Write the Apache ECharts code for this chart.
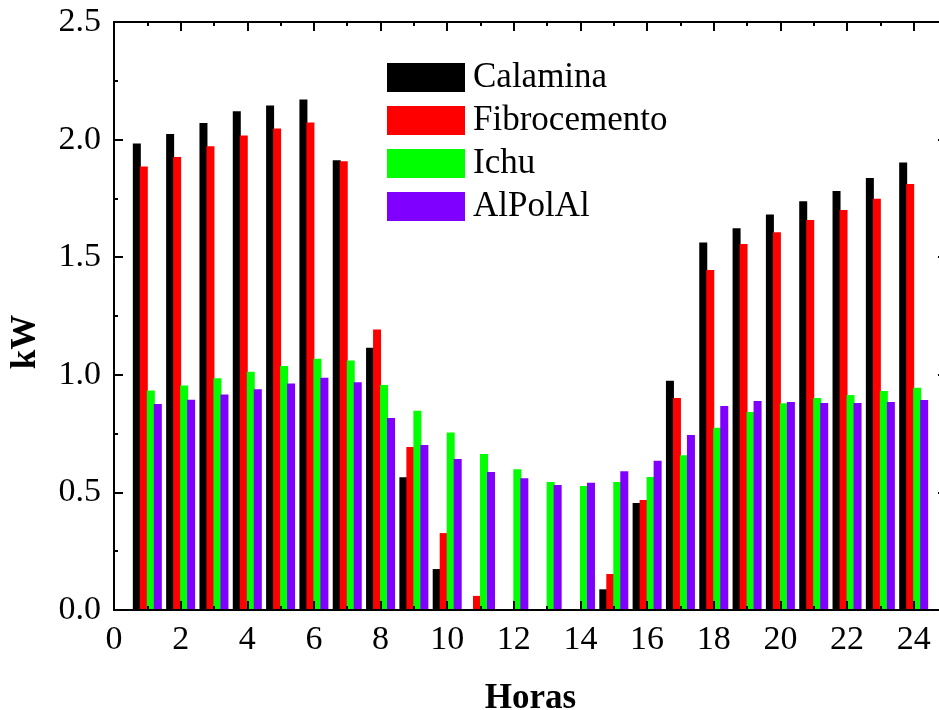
<!DOCTYPE html>
<html>
<head>
<meta charset="utf-8">
<script src="https://cdn.jsdelivr.net/npm/echarts@6/dist/echarts.min.js"></script>
<style>
  html, body { margin: 0; padding: 0; background: #fff; }
  #chart { width: 939px; height: 710px; }
</style>
</head>
<body>
<div id="chart"></div>
<script>
// Hourly power (kW) for four roofing materials
const hours = [1, 2, 3, 4, 5, 6, 7, 8, 9, 10, 11, 12, 13, 14, 15, 16, 17, 18, 19, 20, 21, 22, 23, 24];
const calamina     = [1.983, 2.024, 2.071, 2.121, 2.145, 2.171, 1.912, 1.115, 0.564, 0.174, 0, 0, 0, 0, 0.088, 0.455, 0.975, 1.563, 1.623, 1.682, 1.738, 1.781, 1.837, 1.903];
const fibrocemento = [1.886, 1.926, 1.972, 2.017, 2.047, 2.073, 1.908, 1.193, 0.693, 0.327, 0.060, 0, 0, 0, 0.153, 0.468, 0.901, 1.446, 1.556, 1.606, 1.658, 1.701, 1.749, 1.811];
const ichu         = [0.933, 0.954, 0.985, 1.013, 1.037, 1.068, 1.061, 0.957, 0.847, 0.755, 0.663, 0.598, 0.544, 0.527, 0.544, 0.565, 0.658, 0.775, 0.842, 0.879, 0.901, 0.914, 0.931, 0.945];
const alpolal      = [0.876, 0.894, 0.916, 0.939, 0.963, 0.987, 0.968, 0.816, 0.701, 0.642, 0.587, 0.560, 0.531, 0.541, 0.590, 0.635, 0.744, 0.867, 0.889, 0.884, 0.880, 0.880, 0.884, 0.893];

const seriesNames  = ['Calamina', 'Fibrocemento', 'Ichu', 'AlPolAl'];
const seriesValues = [calamina, fibrocemento, ichu, alpolal];
const seriesColors = ['#000000', '#ff0000', '#00ff00', '#8000ff'];

const FONT = "'Liberation Serif', 'Times New Roman', serif";

const chart = echarts.init(document.getElementById('chart'), null, { renderer: 'canvas' });

const axisLine = { show: true, onZero: false, lineStyle: { color: '#000', width: 2 } };
const majorTick = { show: true, inside: true, length: 9, lineStyle: { color: '#000', width: 2 } };
const minorTick = { show: true, splitNumber: 2, length: 4, lineStyle: { color: '#000', width: 2 } };

const xBase = {
  type: 'value', min: 0, max: 25, interval: 2,
  axisLine, axisTick: majorTick, minorTick,
  splitLine: { show: false }, minorSplitLine: { show: false },
  z: 10
};
const yBase = {
  type: 'value', min: 0, max: 2.5, interval: 0.5,
  axisLine, axisTick: majorTick, minorTick,
  splitLine: { show: false }, minorSplitLine: { show: false },
  z: 10
};

chart.setOption({
  animation: false,
  backgroundColor: '#fff',
  textStyle: { fontFamily: FONT },
  grid: { left: 114, right: -8, top: 22, bottom: 100, containLabel: false, outerBoundsMode: 'none' },
  legend: {
    orient: 'vertical',
    left: 382, top: 55,
    icon: 'rect',
    itemWidth: 78, itemHeight: 29, itemGap: 8,
    textStyle: { fontFamily: FONT, fontSize: 35, lineHeight: 35, color: '#000', padding: [0, 0, 0, 3] },
    data: seriesNames
  },
  xAxis: [
    Object.assign({}, xBase, {
      position: 'bottom',
      name: 'Horas', nameLocation: 'middle', nameGap: 71,
      nameTextStyle: { fontFamily: FONT, fontSize: 35, fontWeight: 'bold', color: '#000' },
      axisLabel: { show: true, showMaxLabel: false, margin: 13, fontFamily: FONT, fontSize: 34, color: '#000' }
    }),
    Object.assign({}, xBase, { position: 'top', axisLabel: { show: false } })
  ],
  yAxis: [
    Object.assign({}, yBase, {
      position: 'left',
      name: 'kW', nameLocation: 'middle', nameGap: 71,
      nameTextStyle: { fontFamily: FONT, fontSize: 35, fontWeight: 'bold', color: '#000', padding: [0, 52, 0, 0] },
      axisLabel: {
        show: true, margin: 13, fontFamily: FONT, fontSize: 34, color: '#000',
        formatter: v => v.toFixed(1)
      }
    }),
    Object.assign({}, yBase, { position: 'right', axisLabel: { show: false } })
  ],
  series: seriesNames.map((name, i) => ({
    name,
    type: 'bar',
    xAxisIndex: 0, yAxisIndex: 0,
    barWidth: 8,
    barGap: '-12.5%',
    itemStyle: { color: seriesColors[i] },
    data: hours.map((h, j) => [h, seriesValues[i][j]])
  }))
});
</script>
</body>
</html>
